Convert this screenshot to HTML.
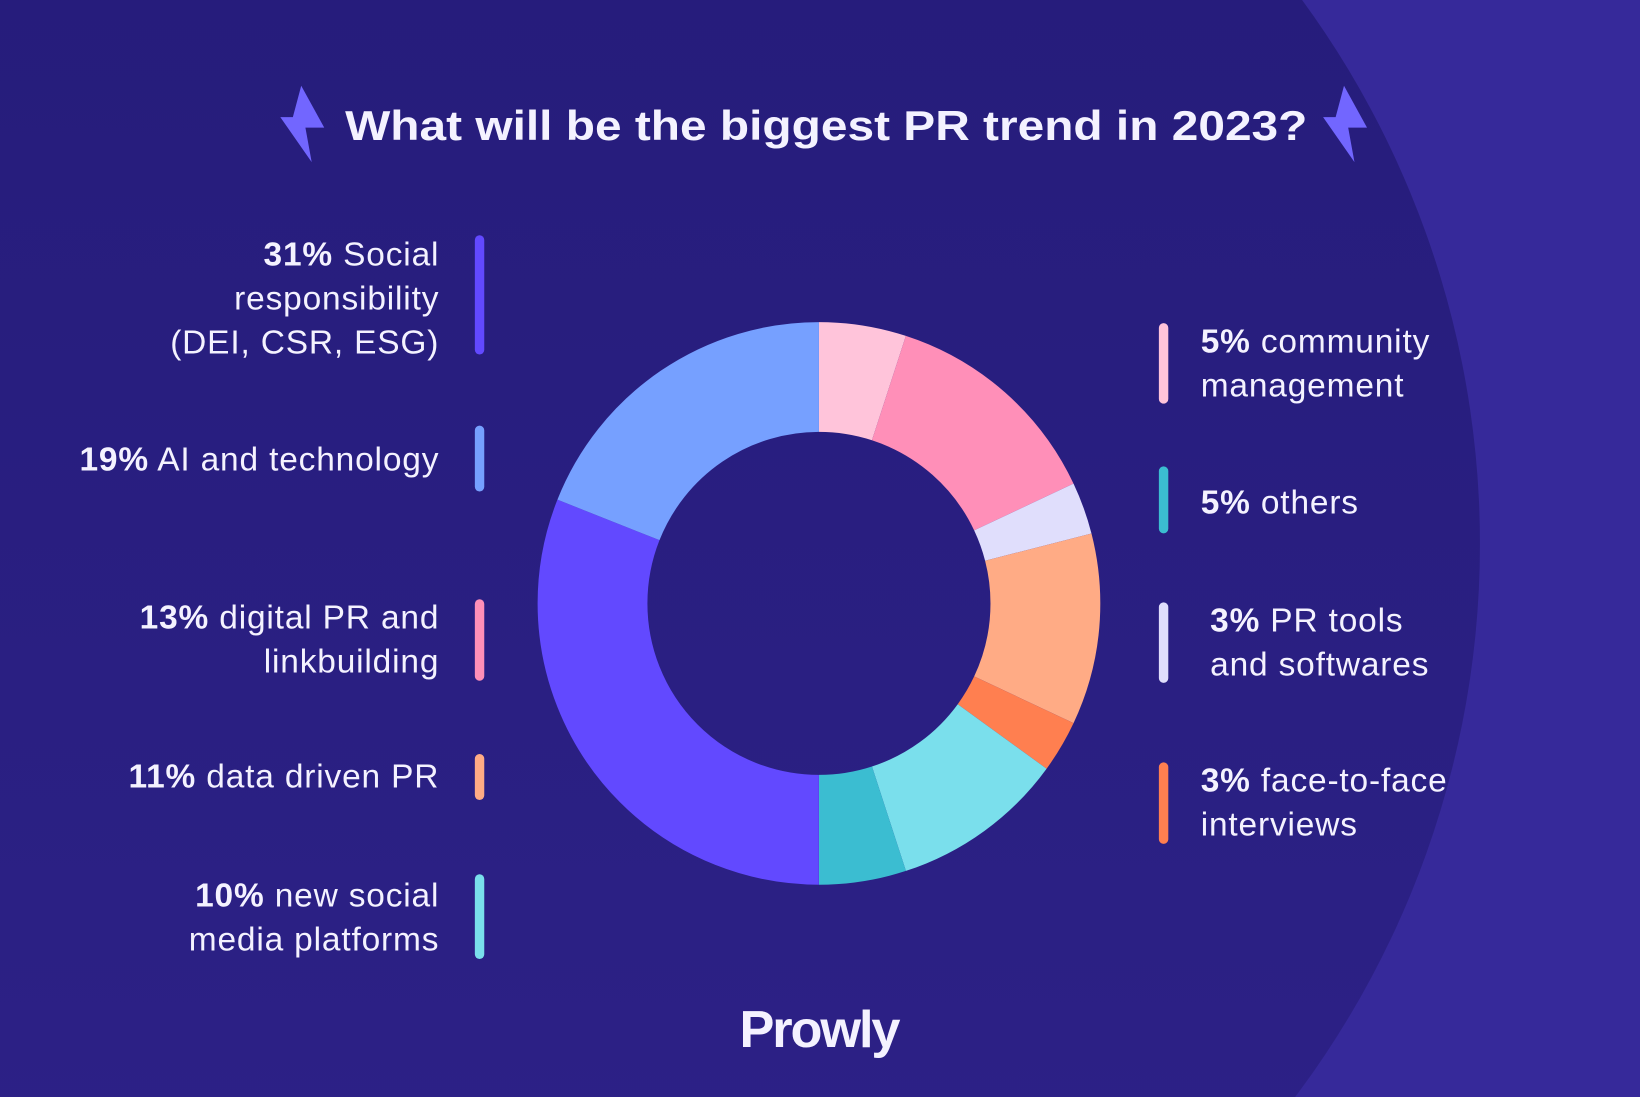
<!DOCTYPE html>
<html><head><meta charset="utf-8"><style>
html,body{margin:0;padding:0;background:#2a1f82;width:1640px;height:1097px;overflow:hidden;}
svg{display:block}
text{font-family:"Liberation Sans",sans-serif;fill:#f4f2ff}
</style></head><body>
<svg width="1640" height="1097" viewBox="0 0 1568 1049" preserveAspectRatio="none" xmlns="http://www.w3.org/2000/svg">
<defs>
<linearGradient id="bg" x1="0" y1="0" x2="0" y2="1"><stop offset="0" stop-color="#241b78"/><stop offset="1" stop-color="#2e2289"/></linearGradient>
</defs>
<rect width="1568" height="1049" fill="#36299a"/>
<circle cx="535" cy="520" r="880" fill="url(#bg)"/>
<polygon points="288,82 280,112 268,112 298,155 292,122 310,122" fill="#7266ff"/>
<polygon points="1297,82 1289,112 1277,112 1307,155 1301,122 1319,122" fill="#7266ff" transform="translate(-12,0)"/>
<text x="790" y="134" font-size="40" font-weight="bold" text-anchor="middle" textLength="920" lengthAdjust="spacingAndGlyphs">What will be the biggest PR trend in 2023?</text>
<g transform="rotate(-90 783 577)" fill="none" stroke-width="105">
<circle cx="783" cy="577" r="216.5" stroke="#ffc4da" stroke-dasharray="68.0 1360.3" stroke-dashoffset="0"/>
<circle cx="783" cy="577" r="216.5" stroke="#ff8fb8" stroke-dasharray="176.8 1360.3" stroke-dashoffset="-68.0"/>
<circle cx="783" cy="577" r="216.5" stroke="#e0defc" stroke-dasharray="40.8 1360.3" stroke-dashoffset="-244.8"/>
<circle cx="783" cy="577" r="216.5" stroke="#ffab85" stroke-dasharray="149.6 1360.3" stroke-dashoffset="-285.6"/>
<circle cx="783" cy="577" r="216.5" stroke="#ff7f50" stroke-dasharray="40.8 1360.3" stroke-dashoffset="-435.2"/>
<circle cx="783" cy="577" r="216.5" stroke="#7adfec" stroke-dasharray="136.0 1360.3" stroke-dashoffset="-476.0"/>
<circle cx="783" cy="577" r="216.5" stroke="#3bbdd1" stroke-dasharray="68.0 1360.3" stroke-dashoffset="-612.0"/>
<circle cx="783" cy="577" r="216.5" stroke="#6249ff" stroke-dasharray="421.7 1360.3" stroke-dashoffset="-680.1"/>
<circle cx="783" cy="577" r="216.5" stroke="#76a0ff" stroke-dasharray="258.5 1360.3" stroke-dashoffset="-1101.8"/>
</g>
<g>
<rect x="454" y="225" width="9" height="114" rx="4.5" fill="#6249ff"/>
<rect x="454" y="407" width="9" height="63" rx="4.5" fill="#76a0ff"/>
<rect x="454" y="573" width="9" height="78" rx="4.5" fill="#ff8fb8"/>
<rect x="454" y="721" width="9" height="44" rx="4.5" fill="#ffab85"/>
<rect x="454" y="836" width="9" height="81" rx="4.5" fill="#7adfec"/>
<rect x="1108" y="309" width="9" height="77" rx="4.5" fill="#ffc4da"/>
<rect x="1108" y="446" width="9" height="64" rx="4.5" fill="#3bbdd1"/>
<rect x="1108" y="576" width="9" height="77" rx="4.5" fill="#e0defc"/>
<rect x="1108" y="729" width="9" height="78" rx="4.5" fill="#ff7f50"/>
</g>
<g font-size="32" text-anchor="end" letter-spacing="0.8">
<text x="420" y="254"><tspan font-weight="bold">31%</tspan> Social</text>
<text x="420" y="296">responsibility</text>
<text x="420" y="338">(DEI, CSR, ESG)</text>
<text x="420" y="450"><tspan font-weight="bold">19%</tspan> AI and technology</text>
<text x="420" y="601"><tspan font-weight="bold">13%</tspan> digital PR and</text>
<text x="420" y="643">linkbuilding</text>
<text x="420" y="753"><tspan font-weight="bold">11%</tspan> data driven PR</text>
<text x="420" y="867"><tspan font-weight="bold">10%</tspan> new social</text>
<text x="420" y="909">media platforms</text>
</g>
<g font-size="32" letter-spacing="0.8">
<text x="1148" y="337"><tspan font-weight="bold">5%</tspan> community</text>
<text x="1148" y="379">management</text>
<text x="1148" y="491"><tspan font-weight="bold">5%</tspan> others</text>
<text x="1157" y="604"><tspan font-weight="bold">3%</tspan> PR tools</text>
<text x="1157" y="646">and softwares</text>
<text x="1148" y="757"><tspan font-weight="bold">3%</tspan> face-to-face</text>
<text x="1148" y="799">interviews</text>
</g>
<text x="783" y="1001" font-size="50" font-weight="bold" text-anchor="middle" letter-spacing="-2" fill="#fff">Prowly</text>
</svg>
</body></html>
